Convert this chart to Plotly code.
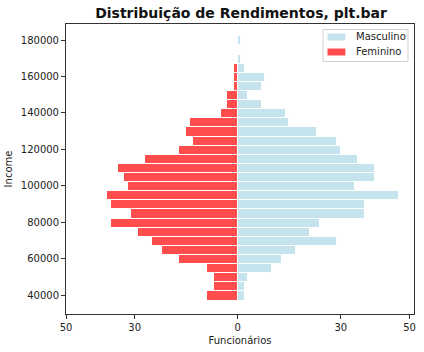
import plotly.graph_objects as go

bin_centers = [39500 + 5000 * k for k in range(29)]
masculino = [2, 2, 3, 10, 13, 17, 29, 21, 24, 37, 37, 47, 34, 40, 40, 35, 30, 29, 23, 15, 14, 7, 3, 7, 8, 2, 1, 0, 1]
feminino = [9, 7, 7, 9, 17, 22, 25, 29, 37, 31, 37, 38, 32, 33, 35, 27, 17, 13, 15, 14, 5, 3, 3, 1, 1, 1, 0, 0, 0]
x_tick_vals = [-50, -30, 0, 30, 50]
x_tick_text = ["50", "30", "0", "30", "50"]
y_tick_vals = [40000, 60000, 80000, 100000, 120000, 140000, 160000, 180000]
series_names = ["Masculino", "Feminino"]
series_colors = ["#c5e3ec", "#ff4d4d"]

W, H = 424, 352
L, R, T, B = 66, 8, 24, 38
pw, ph = W - L - R, H - T - B


def px(x):
    return (x - L) / pw


def py(y):
    return 1 - (y - T) / ph


fig = go.Figure()
fig.add_trace(go.Bar(
    y=bin_centers, x=masculino, orientation="h", name=series_names[0],
    width=5000, marker=dict(color=series_colors[0], line=dict(color="white", width=1)),
))
fig.add_trace(go.Bar(
    y=bin_centers, x=[-v for v in feminino], orientation="h", name=series_names[1],
    width=5000, marker=dict(color=series_colors[1], line=dict(color="white", width=1)),
))

axis_common = dict(
    showgrid=False, zeroline=False, showline=True, linecolor="#333333", linewidth=1,
    mirror=True, ticks="outside", ticklen=4, tickcolor="#333333",
    tickfont=dict(family="DejaVu Sans", size=10, color="#222222"),
)

shapes = [dict(type="rect", xref="paper", yref="paper",
               x0=px(324.5), x1=px(410), y0=py(29.5), y1=py(61.5),
               line=dict(color="#d0d0d0", width=1), fillcolor="rgba(255,255,255,0.8)", layer="above")]
annotations = []
for i, (name, col) in enumerate(zip(series_names, series_colors)):
    yc = 37 + 15 * i
    shapes.append(dict(type="rect", xref="paper", yref="paper",
                       x0=px(329), x1=px(347), y0=py(yc - 3.5), y1=py(yc + 3.5),
                       line=dict(width=0), fillcolor=col, layer="above"))
    annotations.append(dict(text=name, xref="paper", yref="paper", x=px(356), y=py(yc),
                            xanchor="left", yanchor="middle", showarrow=False,
                            font=dict(family="DejaVu Sans", size=10, color="#222222")))

fig.update_layout(
    width=W, height=H,
    margin=dict(l=L, r=R, t=T, b=B),
    paper_bgcolor="white", plot_bgcolor="white",
    barmode="relative", bargap=0,
    title=dict(text="<b>Distribuição de Rendimentos, plt.bar</b>", x=(L + W - R) / 2 / W, xanchor="center",
               y=1 - 13 / H, yanchor="middle",
               font=dict(family="DejaVu Sans", size=14, color="#111111")),
    xaxis=dict(range=[-50, 51.3], tickvals=x_tick_vals, ticktext=x_tick_text,
               title=dict(text="Funcionários", standoff=4, font=dict(family="DejaVu Sans", size=10, color="#222222")),
               **axis_common),
    yaxis=dict(range=[29600, 188800], tickvals=y_tick_vals, tickformat="d",
               title=dict(text="Income", standoff=6, font=dict(family="DejaVu Sans", size=10, color="#222222")),
               **axis_common),
    showlegend=False,
    shapes=shapes,
    annotations=annotations,
)

fig.write_html("out.html")
